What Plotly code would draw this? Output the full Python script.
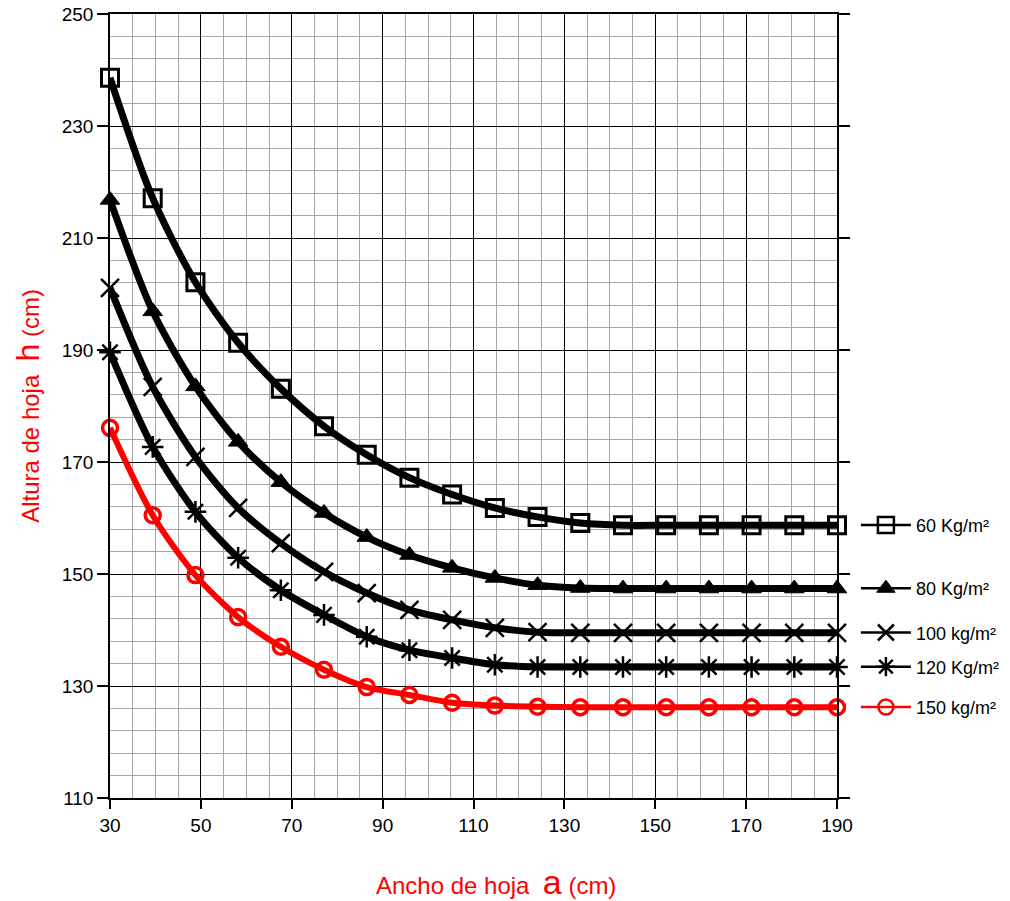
import plotly.graph_objects as go

# ---- data ----
ancho = [30, 39.4, 48.8, 58.2, 67.6, 77.1, 86.5, 95.9, 105.3, 114.7,
         124.1, 133.5, 142.9, 152.4, 161.8, 171.2, 180.6, 190]

h60 = [238.6, 217.1, 202.1, 191.3, 183.1, 176.4, 171.3, 167.2, 164.2, 161.8,
       160.2, 159.1, 158.7, 158.7, 158.7, 158.7, 158.7, 158.7]
h80 = [216.8, 196.9, 183.5, 173.6, 166.4, 160.9, 156.6, 153.4, 151.1, 149.3,
       148.0, 147.5, 147.4, 147.4, 147.4, 147.4, 147.4, 147.4]
h100 = [201.1, 183.4, 170.9, 161.8, 155.5, 150.4, 146.6, 143.6, 141.8, 140.4,
        139.6, 139.5, 139.5, 139.5, 139.5, 139.5, 139.5, 139.5]
h120 = [189.6, 172.7, 161.1, 152.9, 147.1, 142.7, 138.8, 136.4, 135.0, 133.8,
        133.4, 133.4, 133.4, 133.4, 133.4, 133.4, 133.4, 133.4]
h150 = [176.1, 160.5, 149.8, 142.3, 137.0, 132.9, 129.8, 128.4, 127.0, 126.5,
        126.3, 126.2, 126.2, 126.2, 126.2, 126.2, 126.2, 126.2]

series_names = ["60 Kg/m²", "80 Kg/m²", "100 kg/m²", "120 Kg/m²", "150 kg/m²"]
series_values = [h60, h80, h100, h120, h150]

x_range = [30, 190]
y_range = [110, 250]

FONT = "Liberation Sans, Arial, sans-serif"
RED = "#ff0000"

styles = [
    dict(color="black", symbol="square-open", size=17, mlw=3, lw=7),
    dict(color="black", symbol="triangle-up", size=17, mlw=1, lw=7),
    dict(color="black", symbol="x-thin-open", size=18, mlw=2.5, lw=7),
    dict(color="black", symbol="asterisk-open", size=18, mlw=2.5, lw=7),
    dict(color=RED, symbol="circle-open", size=15, mlw=3.5, lw=6),
]

fig = go.Figure()

for i, (name, vals, st) in enumerate(zip(series_names, series_values, styles)):
    fig.add_trace(go.Scatter(
        x=ancho, y=vals, mode="lines+markers", name=name, showlegend=False,
        line=dict(color=st["color"], width=st["lw"], shape="spline", smoothing=0.8),
        marker=dict(symbol=st["symbol"], size=st["size"], color=st["color"],
                    line=dict(color=st["color"], width=st["mlw"])),
        cliponaxis=False,
    ))
    leg = "legend" if i == 0 else f"legend{i+1}"
    # legend-only entry (thinner line, like the reference legend)
    fig.add_trace(go.Scatter(
        x=[None], y=[None], mode="lines+markers", name=name, legend=leg,
        line=dict(color=st["color"], width=2.5),
        marker=dict(symbol=st["symbol"], size=min(st["size"], 16), color=st["color"],
                    line=dict(color=st["color"], width=min(st["mlw"], 2.5))),
    ))

legend_layout = {}
for i, vals in enumerate(series_values):
    key = "legend" if i == 0 else f"legend{i+1}"
    legend_layout[key] = dict(
        x=1.026, xanchor="left",
        y=(vals[-1] - y_range[0]) / (y_range[1] - y_range[0]), yanchor="middle",
        bgcolor="rgba(0,0,0,0)", borderwidth=0,
        font=dict(family=FONT, size=18, color="black"),
        itemwidth=50,
    )

fig.update_layout(
    width=1010, height=901,
    margin=dict(l=110, r=173, t=14, b=103, autoexpand=False),
    paper_bgcolor="white", plot_bgcolor="white",
    font=dict(family=FONT, color="black"),
    **legend_layout,
)

fig.update_xaxes(
    range=x_range, tick0=30, dtick=20, automargin=False, ticklabeloverflow="allow",
    showgrid=True, gridcolor="black", gridwidth=1.3,
    minor=dict(dtick=5, tick0=30, showgrid=True, gridcolor="#a6a6a6", gridwidth=1),
    showline=True, linecolor="black", linewidth=1.5, mirror=True,
    ticks="outside", ticklen=9, tickcolor="black", tickwidth=1.5,
    tickfont=dict(family=FONT, size=19, color="black"),
    zeroline=False,
)
fig.update_yaxes(
    range=y_range, tick0=110, dtick=20, automargin=False, ticklabeloverflow="allow",
    showgrid=True, gridcolor="black", gridwidth=1.3,
    minor=dict(dtick=4, tick0=110, showgrid=True, gridcolor="#a6a6a6", gridwidth=1),
    showline=True, linecolor="black", linewidth=1.5, mirror="ticks",
    ticks="outside", ticklen=11, tickcolor="black", tickwidth=1.5,
    tickfont=dict(family=FONT, size=19, color="black"),
    zeroline=False,
)

fig.add_annotation(
    xref="paper", yref="paper", x=0.531, y=-0.107, xanchor="center", yanchor="middle",
    text='Ancho de hoja  <span style="font-size:34px">a</span> (cm)',
    showarrow=False, font=dict(family=FONT, size=24, color=RED),
)
fig.add_annotation(
    xref="paper", yref="paper", x=-0.113, y=0.5, xanchor="center", yanchor="middle",
    textangle=-90,
    text='Altura de hoja  <span style="font-size:32px">h</span> (cm)',
    showarrow=False, font=dict(family=FONT, size=24, color=RED),
)

# remove the default 8px page margin so the 1010x901 figure fills the window
fig.write_html("out.html", config={"displayModeBar": False},
               post_script="document.body.style.margin='0px';")
